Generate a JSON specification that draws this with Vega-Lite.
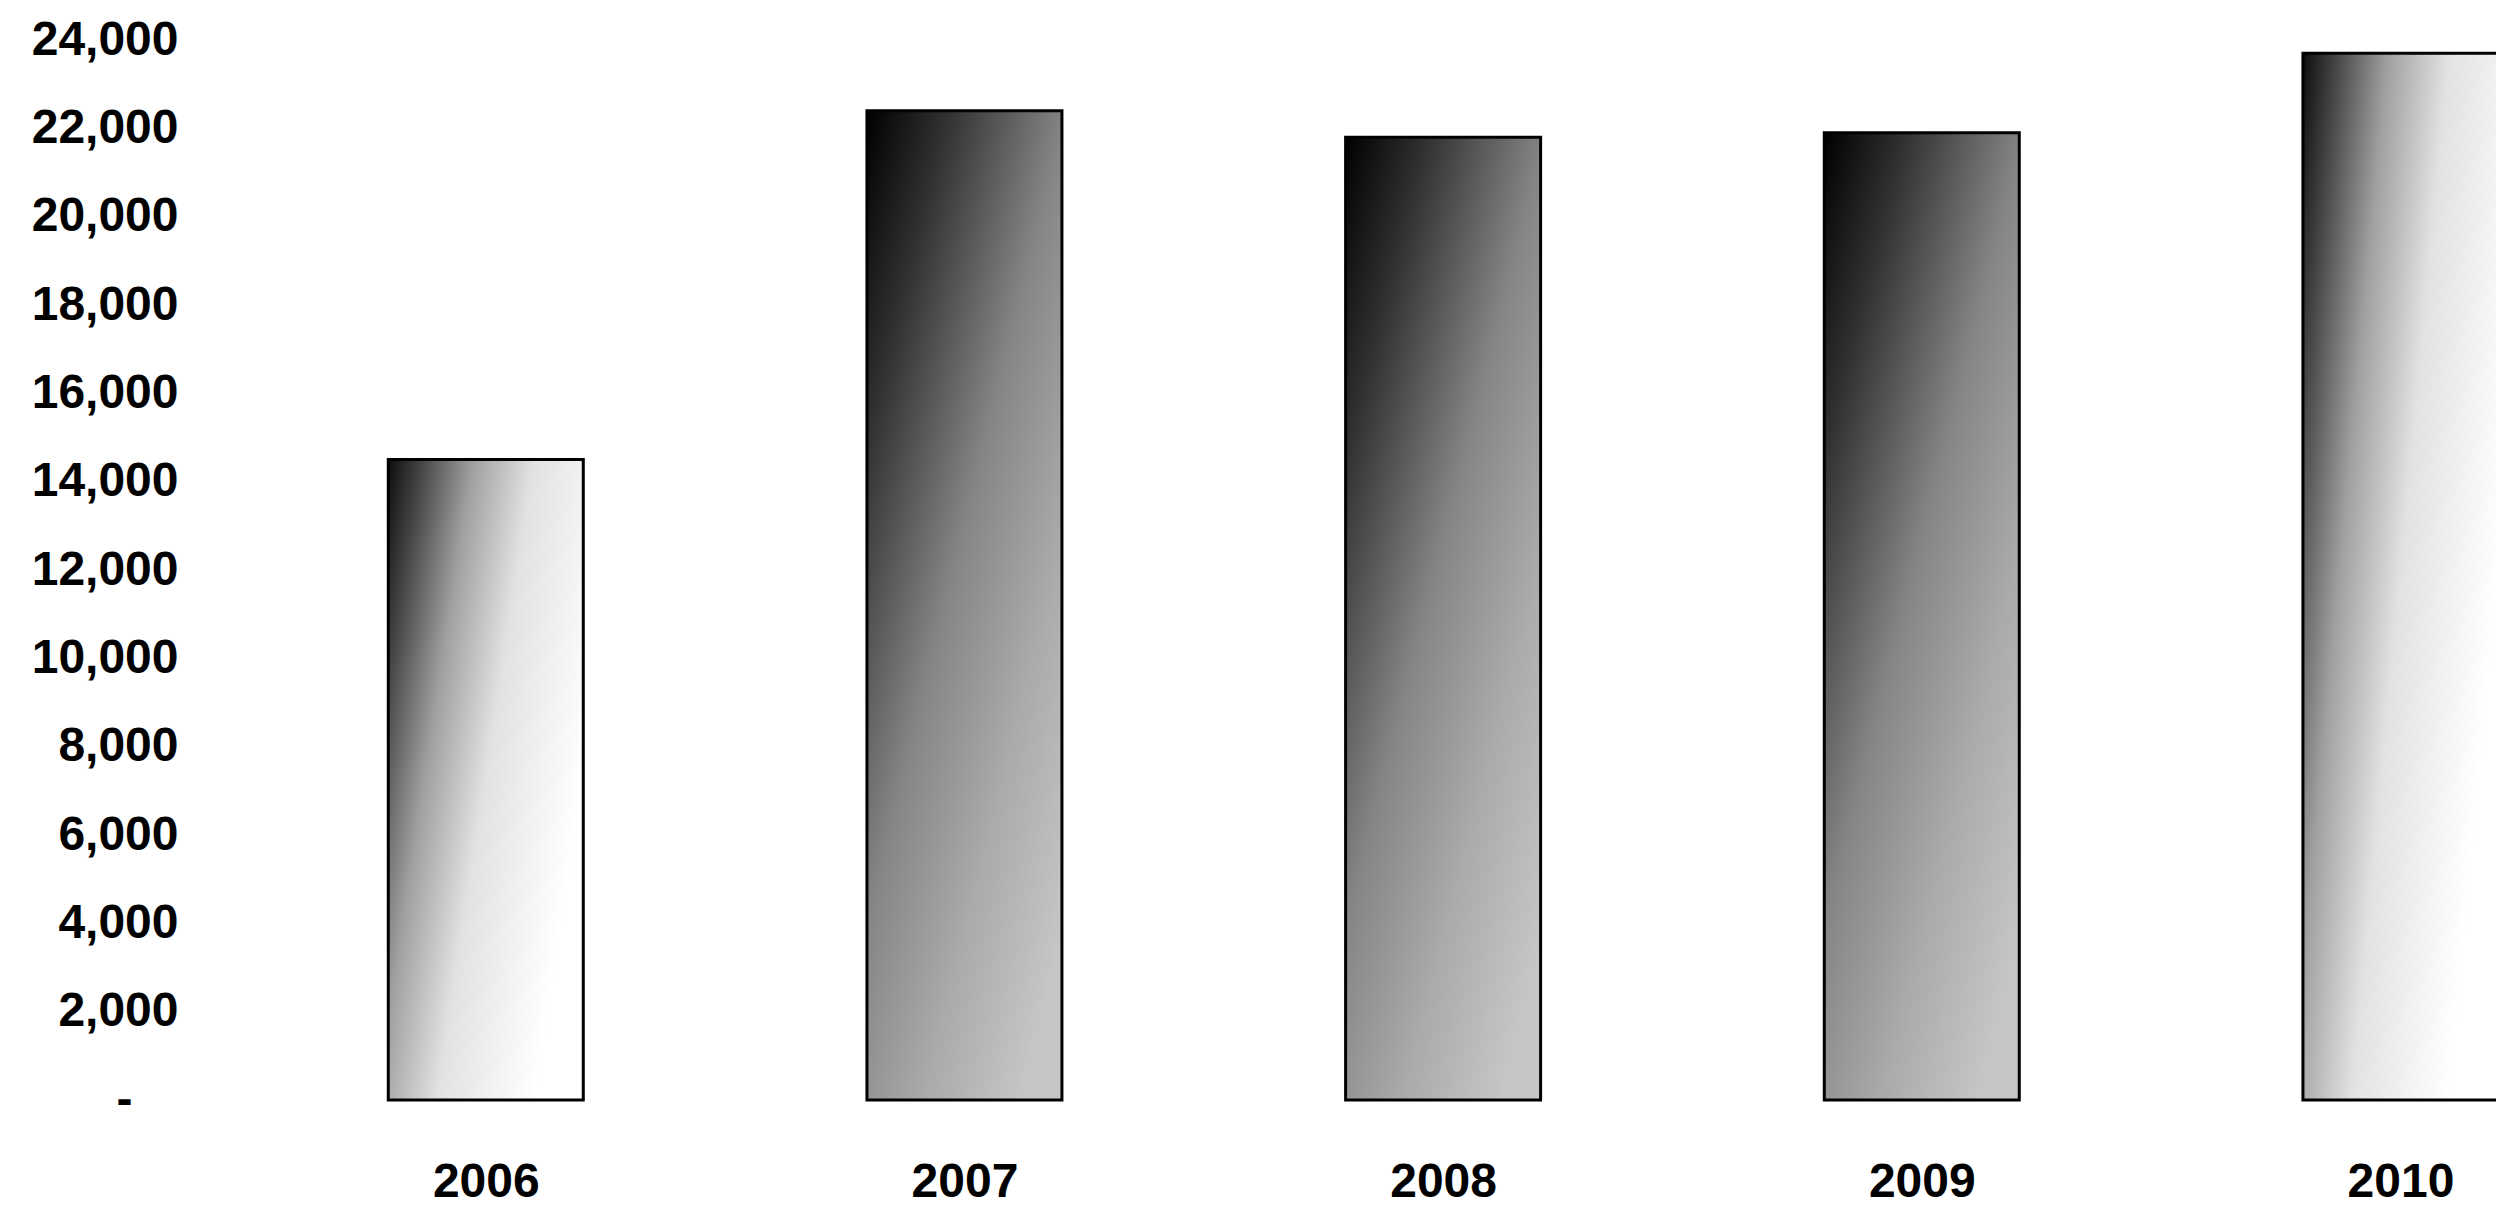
{
  "$schema": "https://vega.github.io/schema/vega-lite/v6.json",
  "autosize": {"type": "none"},
  "width": 2296,
  "height": 1060,
  "padding": {"left": 200, "top": 40, "right": 0, "bottom": 111},
  "background": "#ffffff",
  "config": {
    "view": {"stroke": null},
    "axis": {
      "labelFont": "Liberation Sans",
      "labelFontWeight": "bold",
      "labelFontSize": 48,
      "labelColor": "#000000",
      "ticks": false,
      "domain": false,
      "grid": false,
      "title": null
    }
  },
  "data": {
    "values": [
      {"year": 2006, "value": 14500},
      {"year": 2007, "value": 22400},
      {"year": 2008, "value": 21800},
      {"year": 2009, "value": 21900},
      {"year": 2010, "value": 23700}
    ]
  },
  "encoding": {
    "x": {
      "field": "year",
      "type": "quantitative",
      "scale": {"domain": [2005.4134, 2010.1892], "nice": false, "zero": false},
      "axis": {
        "values": [2006, 2007, 2008, 2009, 2010],
        "format": "d",
        "labelFlush": false,
        "labelOverlap": false,
        "labelPadding": 58
      }
    },
    "y": {
      "field": "value",
      "type": "quantitative",
      "scale": {"domain": [0, 24000], "nice": false},
      "axis": {
        "values": [0, 2000, 4000, 6000, 8000, 10000, 12000, 14000, 16000, 18000, 20000, 22000, 24000],
        "labelExpr": "datum.value == 0 ? '-' : format(datum.value, ',')",
        "labelAlign": "right",
        "labelBaseline": "middle",
        "labelPadding": {"condition": {"test": "datum.value == 0", "value": 68}, "value": 22},
        "labelOverlap": false,
        "labelFlush": false
      }
    }
  },
  "layer": [
    {
      "transform": [{"filter": {"field": "year", "oneOf": [2007, 2008, 2009]}}],
      "mark": {
        "type": "bar",
        "orient": "vertical",
        "width": 195,
        "stroke": "#000000",
        "strokeWidth": 3,
        "color": {
          "gradient": "linear",
          "x1": 0, "y1": 0, "x2": 0.8, "y2": 1,
          "stops": [
            {"offset": 0, "color": "#000000"},
            {"offset": 0.2, "color": "#303030"},
            {"offset": 0.5, "color": "#858585"},
            {"offset": 0.75, "color": "#aaaaaa"},
            {"offset": 1, "color": "#c6c6c6"}
          ]
        }
      }
    },
    {
      "transform": [{"filter": {"field": "year", "oneOf": [2006, 2010]}}],
      "mark": {
        "type": "bar",
        "orient": "vertical",
        "width": 195,
        "stroke": "#000000",
        "strokeWidth": 3,
        "color": {
          "gradient": "linear",
          "x1": 0, "y1": 0, "x2": 1, "y2": 0.5,
          "stops": [
            {"offset": 0, "color": "#0d0d0d"},
            {"offset": 0.15, "color": "#4a4a4a"},
            {"offset": 0.35, "color": "#a0a0a0"},
            {"offset": 0.6, "color": "#e2e2e2"},
            {"offset": 1, "color": "#ffffff"}
          ]
        }
      }
    }
  ]
}
